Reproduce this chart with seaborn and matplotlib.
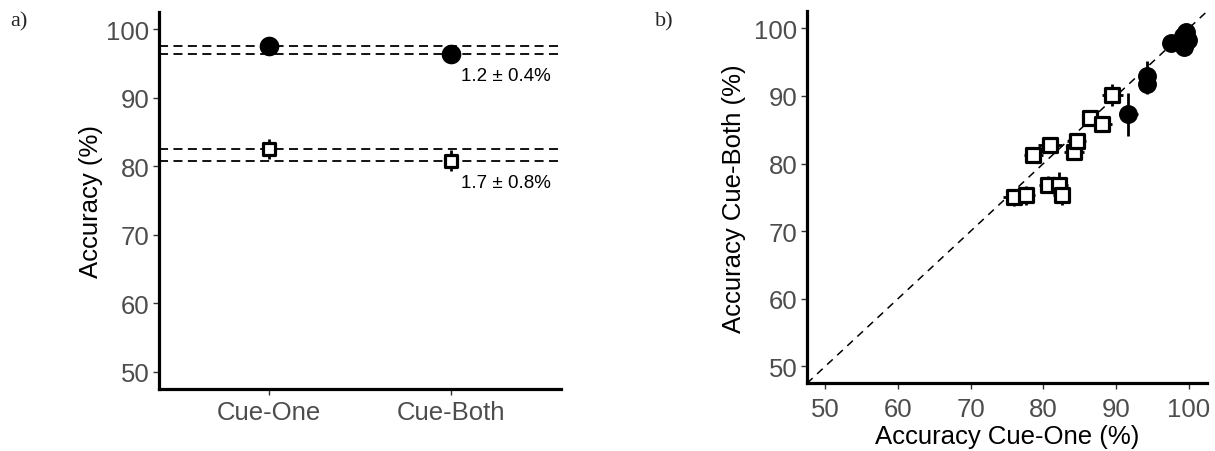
import matplotlib
matplotlib.use("Agg")
import matplotlib.pyplot as plt
import seaborn as sns
import pandas as pd
import numpy as np

# ---------------- data ----------------
conditions = ["Cue-One", "Cue-Both"]
high_means = [97.6, 96.4]
high_err = [0.6, 0.5]
low_means = [82.5, 80.8]
low_err = [1.4, 1.5]
diff_labels = ["1.2 \u00b1 0.4%", "1.7 \u00b1 0.8%"]
diff_label_y = [93.2, 77.6]

sq_one = [75.9, 77.6, 78.6, 80.9, 80.7, 82.2, 82.5, 84.2, 84.6, 86.4, 88.1, 89.5]
sq_both = [75.0, 75.3, 81.3, 82.7, 76.9, 76.9, 75.3, 81.7, 83.3, 86.8, 85.8, 90.1]
sq_one_err = [1.5, 1.3, 1.3, 1.7, 1.3, 1.2, 1.2, 1.4, 1.3, 1.1, 1.4, 1.5]
sq_both_err = [1.3, 1.4, 1.2, 1.0, 1.3, 1.8, 1.4, 1.2, 1.1, 1.0, 0.9, 1.6]

ci_one = [91.7, 94.3, 94.3, 97.5, 99.6, 99.9, 99.3, 99.2]
ci_both = [87.3, 92.9, 91.8, 97.8, 99.4, 98.3, 97.3, 98.9]
ci_one_err = [1.3, 0.5, 0.5, 0.5, 0.4, 0.3, 0.3, 0.3]
ci_both_err = [3.2, 2.2, 1.5, 0.5, 0.5, 0.4, 0.4, 0.4]

ticks = [50, 60, 70, 80, 90, 100]

# ---------------- style ----------------
sns.set_theme(style="ticks")
plt.rcParams["font.family"] = ["Liberation Sans", "DejaVu Sans"]
TICK_COL = "#4D4D4D"
AX_LW = 2.3

fig = plt.figure(figsize=(12.15, 4.52), dpi=100)
ax1 = fig.add_axes([159 / 1215, (452 - 390) / 452, (561 - 159) / 1215, (390 - 13) / 452])
ax2 = fig.add_axes([807 / 1215, (452 - 384.3) / 452, 400 / 1215, (384.3 - 12.4) / 452])

def style_axes(ax):
    for s in ["top", "right"]:
        ax.spines[s].set_visible(False)
    for s in ["left", "bottom"]:
        ax.spines[s].set_linewidth(AX_LW)
        ax.spines[s].set_color("black")
    ax.tick_params(axis="both", which="major", length=4, width=1.0, color="#333333",
                   labelsize=18.5, labelcolor=TICK_COL, pad=3)
    ax.grid(False)
    ax.set_facecolor("white")

# ---------------- panel a ----------------
xpos = np.arange(len(conditions)) + 1
df_high = pd.DataFrame({"cond": xpos, "acc": high_means})
df_low = pd.DataFrame({"cond": xpos, "acc": low_means})

for m in high_means + low_means:
    ax1.axhline(m, color="black", lw=1.3, ls=(0, (5, 3)), zorder=1)

ax1.errorbar(xpos, high_means, yerr=high_err, fmt="none", ecolor="black", elinewidth=2, capsize=0, zorder=2)
ax1.errorbar(xpos, low_means, yerr=low_err, fmt="none", ecolor="black", elinewidth=2, capsize=0, zorder=2)
sns.scatterplot(data=df_high, x="cond", y="acc", ax=ax1, marker="o", s=200, color="black",
                edgecolor="black", linewidth=0, zorder=3, legend=False)
sns.scatterplot(data=df_low, x="cond", y="acc", ax=ax1, marker="s", s=85, facecolor="white",
                edgecolor="black", linewidth=2.3, zorder=3, legend=False)

for x, y, t in zip([2.3, 2.3], diff_label_y, diff_labels):
    ax1.text(x, y, t, ha="center", va="center", fontsize=13.5, color="black")

ax1.set_xlim(0.4, 2.6)
ax1.set_ylim(47.5, 102.5)
ax1.set_xticks(xpos)
ax1.set_xticklabels(conditions)
ax1.set_yticks(ticks)
style_axes(ax1)
ax1.tick_params(axis="x", pad=4)
ax1.set_xlabel("")
ax1.set_ylabel("Accuracy (%)", fontsize=18.5, color="black", labelpad=2)

# ---------------- panel b ----------------
ax2.plot([47.5, 102.5], [47.5, 102.5], color="black", lw=1.1, ls=(0, (5, 4)), zorder=1)
ax2.errorbar(sq_one, sq_both, xerr=sq_one_err, yerr=sq_both_err, fmt="none", ecolor="black",
             elinewidth=2, capsize=0, zorder=2)
ax2.errorbar(ci_one, ci_both, xerr=ci_one_err, yerr=ci_both_err, fmt="none", ecolor="black",
             elinewidth=2, capsize=0, zorder=2)
df_sq = pd.DataFrame({"one": sq_one, "both": sq_both})
df_ci = pd.DataFrame({"one": ci_one, "both": ci_both})
sns.scatterplot(data=df_sq, x="one", y="both", ax=ax2, marker="s", s=95, facecolor="white",
                edgecolor="black", linewidth=2.3, zorder=3, legend=False)
sns.scatterplot(data=df_ci, x="one", y="both", ax=ax2, marker="o", s=185, color="black",
                edgecolor="black", linewidth=0, zorder=3, legend=False)
ax2.set_xlim(47.5, 102.5)
ax2.set_ylim(47.5, 102.5)
ax2.set_xticks(ticks)
ax2.set_yticks(ticks)
style_axes(ax2)
ax2.tick_params(axis="x", pad=6)
ax2.set_xlabel("Accuracy Cue-One (%)", fontsize=18.5, color="black", labelpad=2)
ax2.set_ylabel("Accuracy Cue-Both (%)", fontsize=18.5, color="black", labelpad=6)

# ---------------- panel letters ----------------
fig.text(10 / 1215, 1 - 22 / 452, "a)", fontsize=16, family=["Liberation Serif", "DejaVu Serif"],
         ha="left", va="center")
fig.text(655 / 1215, 1 - 22 / 452, "b)", fontsize=16, family=["Liberation Serif", "DejaVu Serif"],
         ha="left", va="center")

fig.savefig("out.png", dpi=100, facecolor="white")
